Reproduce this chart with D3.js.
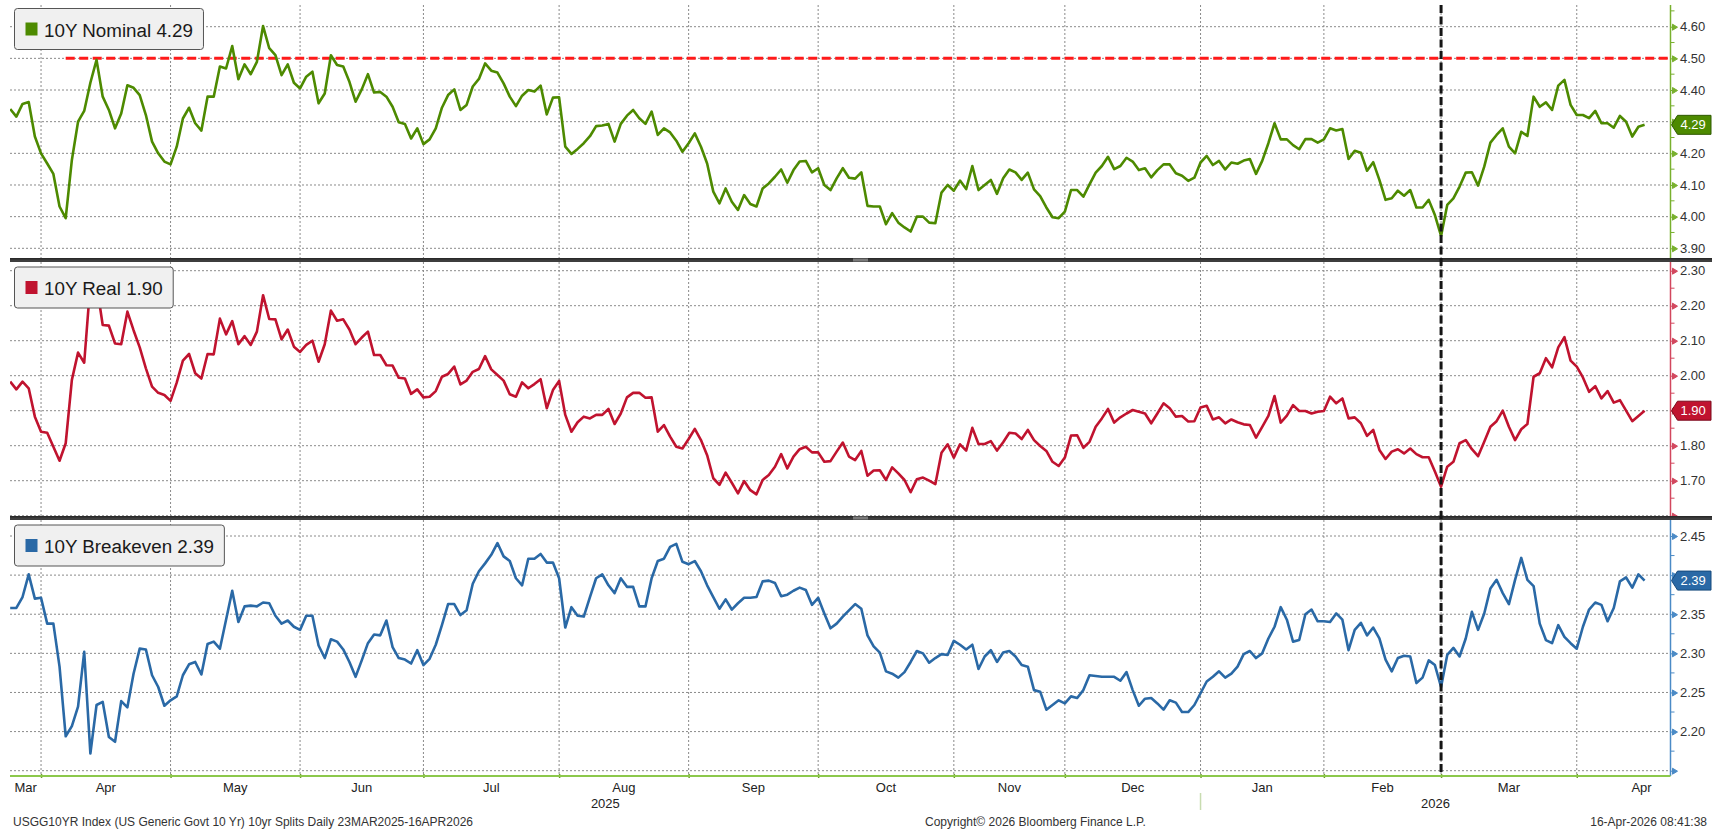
<!DOCTYPE html>
<html>
<head>
<meta charset="utf-8">
<script src="https://cdn.jsdelivr.net/npm/d3@7/dist/d3.min.js"></script>
<style>
  body { margin: 0; background: #fff; }
  svg { display: block; font-family: "Liberation Sans", Arial, sans-serif; }
  .grid line { stroke: #8a8a8a; stroke-width: 1; stroke-dasharray: 2,2; }
</style>
</head>
<body>
<div id="chart"></div>
<script>
// Daily closes, one value per trading day, 25-Mar-2025 .. 16-Apr-2026
var nominal = [
  4.340,4.316,4.356,4.362,4.253,4.200,4.168,4.135,4.032,3.995,
  4.179,4.300,4.334,4.423,4.495,4.379,4.337,4.279,4.326,4.415,
  4.407,4.384,4.321,4.237,4.200,4.174,4.165,4.221,4.310,4.344,
  4.295,4.272,4.379,4.379,4.474,4.468,4.539,4.434,4.481,4.450,
  4.489,4.602,4.532,4.510,4.447,4.481,4.423,4.405,4.442,4.458,
  4.358,4.389,4.510,4.479,4.474,4.426,4.363,4.402,4.450,4.392,
  4.394,4.379,4.347,4.298,4.293,4.247,4.279,4.229,4.244,4.279,
  4.344,4.384,4.402,4.337,4.353,4.411,4.435,4.484,4.461,4.455,
  4.421,4.379,4.349,4.382,4.400,4.395,4.414,4.323,4.376,4.377,
  4.221,4.198,4.214,4.232,4.254,4.286,4.288,4.293,4.237,4.293,
  4.319,4.337,4.311,4.293,4.332,4.258,4.279,4.266,4.240,4.205,
  4.232,4.263,4.221,4.168,4.079,4.042,4.089,4.047,4.021,4.068,
  4.040,4.032,4.089,4.105,4.126,4.149,4.107,4.147,4.174,4.176,
  4.140,4.153,4.100,4.084,4.121,4.153,4.123,4.120,4.140,4.034,
  4.032,4.032,3.976,4.011,3.981,3.966,3.953,4.000,4.000,3.981,
  3.979,4.076,4.100,4.082,4.114,4.087,4.160,4.084,4.100,4.116,
  4.072,4.121,4.149,4.140,4.116,4.139,4.086,4.065,4.029,3.998,
  3.995,4.016,4.084,4.084,4.063,4.102,4.139,4.160,4.189,4.150,
  4.160,4.186,4.174,4.147,4.153,4.124,4.147,4.165,4.165,4.137,
  4.129,4.113,4.123,4.171,4.192,4.163,4.176,4.149,4.171,4.167,
  4.177,4.182,4.135,4.176,4.232,4.295,4.244,4.244,4.226,4.213,
  4.245,4.245,4.234,4.244,4.279,4.272,4.277,4.182,4.208,4.202,
  4.145,4.172,4.116,4.053,4.058,4.082,4.066,4.084,4.029,4.029,
  4.053,4.005,3.939,4.037,4.058,4.095,4.139,4.140,4.098,4.158,
  4.234,4.258,4.279,4.221,4.200,4.268,4.255,4.379,4.347,4.361,
  4.337,4.414,4.432,4.353,4.321,4.321,4.311,4.334,4.295,4.295,
  4.281,4.318,4.300,4.253,4.284,4.290
];

var real = [
  1.983,1.961,1.983,1.964,1.883,1.840,1.837,1.797,1.757,1.807,
  1.988,2.066,2.037,2.264,2.262,2.145,2.143,2.092,2.090,2.183,
  2.130,2.081,2.021,1.969,1.951,1.945,1.928,1.980,2.043,2.062,
  2.007,1.992,2.062,2.061,2.163,2.118,2.156,2.090,2.113,2.088,
  2.126,2.230,2.162,2.161,2.104,2.132,2.083,2.068,2.088,2.100,
  2.040,2.090,2.186,2.157,2.161,2.132,2.090,2.109,2.126,2.059,
  2.059,2.030,2.029,1.994,1.992,1.948,1.961,1.938,1.940,1.956,
  1.997,2.005,2.026,1.975,1.986,2.011,2.019,2.056,2.018,2.002,
  1.986,1.947,1.940,1.981,1.964,1.976,1.990,1.907,1.959,1.985,
  1.888,1.840,1.867,1.883,1.878,1.888,1.888,1.905,1.862,1.892,
  1.938,1.951,1.951,1.937,1.938,1.840,1.859,1.826,1.797,1.792,
  1.819,1.848,1.816,1.773,1.707,1.688,1.723,1.694,1.664,1.699,
  1.673,1.661,1.702,1.716,1.740,1.776,1.735,1.769,1.790,1.797,
  1.781,1.781,1.754,1.756,1.783,1.809,1.769,1.759,1.785,1.714,
  1.729,1.730,1.702,1.738,1.721,1.702,1.667,1.704,1.709,1.700,
  1.690,1.780,1.804,1.766,1.804,1.786,1.851,1.805,1.805,1.813,
  1.786,1.810,1.837,1.835,1.819,1.845,1.816,1.799,1.785,1.754,
  1.742,1.766,1.829,1.830,1.794,1.811,1.854,1.878,1.905,1.866,
  1.881,1.892,1.902,1.897,1.892,1.864,1.892,1.921,1.907,1.883,
  1.885,1.869,1.870,1.909,1.914,1.875,1.881,1.864,1.875,1.867,
  1.861,1.859,1.823,1.854,1.885,1.942,1.866,1.886,1.916,1.899,
  1.899,1.892,1.897,1.899,1.940,1.921,1.935,1.878,1.881,1.864,
  1.828,1.845,1.788,1.762,1.783,1.790,1.778,1.792,1.776,1.767,
  1.767,1.726,1.683,1.740,1.754,1.807,1.816,1.790,1.770,1.811,
  1.854,1.870,1.900,1.854,1.816,1.847,1.862,1.997,2.007,2.050,
  2.024,2.081,2.110,2.043,2.026,1.995,1.954,1.970,1.935,1.956,
  1.923,1.930,1.900,1.870,1.885,1.900
];

var breakeven = [
  2.358,2.358,2.372,2.401,2.370,2.371,2.338,2.338,2.283,2.194,
  2.207,2.232,2.302,2.172,2.234,2.238,2.193,2.187,2.239,2.231,
  2.274,2.306,2.305,2.272,2.257,2.233,2.240,2.245,2.272,2.286,
  2.289,2.273,2.312,2.315,2.306,2.343,2.380,2.340,2.360,2.361,
  2.360,2.365,2.364,2.348,2.338,2.342,2.334,2.330,2.348,2.348,
  2.310,2.294,2.318,2.315,2.305,2.289,2.270,2.291,2.313,2.324,
  2.323,2.342,2.308,2.294,2.292,2.287,2.304,2.285,2.293,2.311,
  2.336,2.363,2.363,2.349,2.355,2.389,2.405,2.415,2.426,2.441,
  2.424,2.418,2.396,2.387,2.421,2.421,2.427,2.416,2.416,2.396,
  2.333,2.359,2.348,2.347,2.372,2.396,2.401,2.387,2.377,2.396,
  2.385,2.385,2.360,2.360,2.396,2.418,2.421,2.436,2.440,2.417,
  2.414,2.418,2.405,2.387,2.372,2.357,2.369,2.356,2.364,2.371,
  2.371,2.372,2.392,2.393,2.390,2.373,2.375,2.380,2.384,2.381,
  2.362,2.371,2.351,2.332,2.338,2.347,2.355,2.363,2.357,2.323,
  2.309,2.301,2.277,2.274,2.269,2.276,2.289,2.303,2.300,2.288,
  2.294,2.299,2.298,2.316,2.311,2.305,2.311,2.280,2.296,2.304,
  2.289,2.301,2.303,2.296,2.285,2.283,2.253,2.251,2.228,2.234,
  2.240,2.236,2.245,2.243,2.253,2.272,2.271,2.270,2.270,2.270,
  2.265,2.276,2.253,2.233,2.242,2.243,2.236,2.228,2.240,2.237,
  2.225,2.225,2.234,2.249,2.264,2.270,2.277,2.269,2.274,2.283,
  2.299,2.303,2.294,2.300,2.319,2.334,2.359,2.343,2.315,2.317,
  2.350,2.356,2.341,2.341,2.340,2.351,2.343,2.304,2.330,2.339,
  2.323,2.333,2.319,2.292,2.277,2.294,2.297,2.296,2.262,2.269,
  2.291,2.285,2.257,2.298,2.307,2.296,2.319,2.353,2.330,2.351,
  2.383,2.394,2.377,2.363,2.394,2.422,2.394,2.386,2.338,2.317,
  2.313,2.336,2.321,2.313,2.306,2.334,2.356,2.365,2.362,2.341,
  2.358,2.392,2.397,2.384,2.401,2.393
];

// tick labels for the three right axes
var nominalTicks = [3.90, 4.00, 4.10, 4.20, 4.30, 4.40, 4.50, 4.60];
var realTicks = [1.60, 1.70, 1.80, 1.90, 2.00, 2.10, 2.20, 2.30];
var breakevenTicks = [2.15, 2.20, 2.25, 2.30, 2.35, 2.40, 2.45];

// calendar: bond market closures skipped by the daily series
var startDate = "2025-03-25";
var endDate = "2026-04-16";
var holidays = ["2025-04-18", "2025-05-26", "2025-06-19", "2025-07-04", "2025-09-01", "2025-10-13",
  "2025-11-11", "2025-11-27", "2025-12-25", "2026-01-01", "2026-01-19", "2026-02-16"];
var markerDate = "2026-03-02";
var nominalLevel = 4.50;
var levelFrom = "2025-04-07";

var footLeft = "USGG10YR Index (US Generic Govt 10 Yr) 10yr Splits Daily 23MAR2025-16APR2026";
var footMid = "Copyright\u00A9 2026 Bloomberg Finance L.P.";
var footRight = "16-Apr-2026 08:41:38";

var svgWidth = 1712;
var svgHeight = 832;
var plotLeft = 10;
var axisX = 1670.5;
var fmt = d3.format(".2f");

var parseDay = d3.timeParse("%Y-%m-%d");
var fmtDay = d3.timeFormat("%Y-%m-%d");
var days = d3.timeDay.range(parseDay(startDate), d3.timeDay.offset(parseDay(endDate), 1))
  .filter(function(d) {
    return d.getDay() !== 0 && d.getDay() !== 6 && holidays.indexOf(fmtDay(d)) < 0;
  });
var dayIndex = function(s) { return days.map(fmtDay).indexOf(s); };

var svg = d3.select("#chart").append("svg")
  .attr("width", svgWidth)
  .attr("height", svgHeight);

// x scale over trading-day index
var xScale = d3.scaleLinear()
  .domain([0, days.length - 1 + 4.2])
  .range([10.2, axisX]);

var monthStarts = [];
days.forEach(function(d, i) {
  if (i > 0 && d.getMonth() !== days[i - 1].getMonth()) monthStarts.push(i);
});

var panels = [
  { label: "10Y Nominal", values: nominal, ticks: nominalTicks, color: "#4d8a00", axisColor: "#78b02e", dark: "#2f5a00",
    top: 5, bottom: 258, legendTop: 8.5, y: d3.scaleLinear().domain([3.9, 4.6]).range([248.3, 26.7]) },
  { label: "10Y Real", values: real, ticks: realTicks, color: "#c0132f", axisColor: "#d2475e", dark: "#7a0a1c",
    top: 262, bottom: 516, legendTop: 267, y: d3.scaleLinear().domain([1.7, 2.3]).range([480.7, 270.7]) },
  { label: "10Y Breakeven", values: breakeven, ticks: breakevenTicks, color: "#2a69a6", axisColor: "#4a8ac6", dark: "#174a7c",
    top: 520, bottom: 776, legendTop: 525, y: d3.scaleLinear().domain([2.15, 2.45]).range([770.7, 536]) }
];

var defs = svg.append("defs");

panels.forEach(function(p, k) {
  var g = svg.append("g");
  var last = p.values[p.values.length - 1];
  var ly = p.y(last);

  defs.append("clipPath").attr("id", "clip" + k)
    .append("rect")
    .attr("x", plotLeft).attr("y", p.top)
    .attr("width", axisX - plotLeft).attr("height", p.bottom - p.top);

  // grid
  g.append("g").attr("class", "grid")
    .selectAll("line").data(p.ticks).enter().append("line")
    .attr("x1", plotLeft).attr("x2", axisX)
    .attr("y1", d => p.y(d)).attr("y2", d => p.y(d));

  g.append("g").attr("class", "grid")
    .selectAll("line").data(monthStarts).enter().append("line")
    .attr("x1", d => xScale(d)).attr("x2", d => xScale(d))
    .attr("y1", p.top).attr("y2", p.bottom);

  // 4.50 reference level on the nominal panel
  if (k === 0) {
    g.append("line")
      .attr("x1", xScale(dayIndex(levelFrom))).attr("x2", axisX)
      .attr("y1", p.y(nominalLevel)).attr("y2", p.y(nominalLevel))
      .attr("stroke", "#ff1a1a").attr("stroke-width", 3)
      .attr("stroke-dasharray", "9,4.5");
  }

  // series
  var line = d3.line()
    .x((d, i) => xScale(i))
    .y(d => p.y(d));

  g.append("path")
    .datum(p.values)
    .attr("clip-path", "url(#clip" + k + ")")
    .attr("d", line)
    .attr("fill", "none")
    .attr("stroke", p.color)
    .attr("stroke-width", 2.6)
    .attr("stroke-linejoin", "round");

  // legend box
  var lg = g.append("g").attr("transform", `translate(14.5, ${p.legendTop})`);
  var box = lg.append("rect")
    .attr("height", 41).attr("rx", 3)
    .attr("fill", "#f0f0f0").attr("stroke", "#555").attr("stroke-width", 1);
  lg.append("rect")
    .attr("x", 11).attr("y", 14).attr("width", 12).attr("height", 13)
    .attr("fill", p.color);
  var lt = lg.append("text")
    .attr("x", 29.5).attr("y", 28.3)
    .attr("fill", "#1a1a1a")
    .style("font-size", "18.8px")
    .text(p.label + " " + fmt(last));
  box.attr("width", lt.node().getComputedTextLength() + 40);

  // right axis
  g.append("line")
    .attr("x1", axisX).attr("x2", axisX)
    .attr("y1", p.top).attr("y2", p.bottom)
    .attr("stroke", p.axisColor).attr("stroke-width", 1.5);

  var step = p.ticks[1] - p.ticks[0];
  var minor = d3.range(-3, p.ticks.length + 2).map(j => p.ticks[0] + (j + 0.5) * step)
    .filter(v => p.y(v) > p.top + 1 && p.y(v) < p.bottom - 1);
  g.append("g").selectAll("line").data(minor).enter().append("line")
    .attr("x1", axisX).attr("x2", axisX + 4)
    .attr("y1", d => p.y(d)).attr("y2", d => p.y(d))
    .attr("stroke", p.axisColor).attr("stroke-width", 1);

  var yAxis = d3.axisRight(p.y)
    .tickValues(p.ticks)
    .tickFormat(function(v) {
      // labels hidden at the panel edge or under the last-value tag
      return (p.y(v) >= p.bottom - 6 || Math.abs(p.y(v) - ly) < 12) ? "" : fmt(v);
    })
    .tickSize(0)
    .tickPadding(9.5);
  var ag = g.append("g")
    .attr("transform", `translate(${axisX},0)`)
    .call(yAxis);
  ag.select(".domain").remove();
  ag.attr("font-size", 13).attr("font-family", null);
  ag.selectAll("text").attr("fill", "#333");
  ag.selectAll(".tick").append("path")
    .attr("d", "M0,0H3M2,-3L7,0L2,3Z")
    .attr("fill", p.axisColor).attr("stroke", p.axisColor).attr("stroke-width", 1);

  // last value tag
  g.append("path")
    .attr("d", `M${axisX + 1},${ly} L${axisX + 7},${ly - 9.5} H1711 V${ly + 9.5} H${axisX + 7} Z`)
    .attr("fill", p.color).attr("stroke", p.dark).attr("stroke-width", 1);
  g.append("text")
    .attr("x", axisX + 10).attr("y", ly).attr("dy", "0.35em")
    .attr("fill", "#fff").style("font-size", "13px")
    .text(fmt(last));
});

// panel separators
[258, 516].forEach(function(sy) {
  svg.append("rect").attr("x", plotLeft).attr("y", sy).attr("width", svgWidth - plotLeft).attr("height", 4)
    .attr("fill", "#3e3e3e");
  svg.append("rect").attr("x", plotLeft).attr("y", sy).attr("width", svgWidth - plotLeft).attr("height", 1.5)
    .attr("fill", "#2a2a2a");
  svg.append("rect").attr("x", 853).attr("y", sy + 0.5).attr("width", 15).attr("height", 3)
    .attr("fill", "#7a7a7a");
});

// event marker
var mx = xScale(dayIndex(markerDate));
svg.append("line")
  .attr("x1", mx).attr("x2", mx)
  .attr("y1", 5).attr("y2", 776)
  .attr("stroke", "#151515").attr("stroke-width", 3)
  .attr("stroke-dasharray", "8,3.5");

// x axis
var xAxis = d3.axisBottom(xScale)
  .tickValues(monthStarts)
  .tickFormat("")
  .tickSize(4)
  .tickSizeOuter(0);
var xg = svg.append("g")
  .attr("transform", "translate(0,774)")
  .call(xAxis);
xg.select(".domain").remove();
xg.selectAll("line").attr("stroke", "#6b9e2a").attr("stroke-width", 1.5);
svg.append("line")
  .attr("x1", plotLeft).attr("x2", axisX)
  .attr("y1", 776).attr("y2", 776)
  .attr("stroke", "#8cc84b").attr("stroke-width", 2);

// month labels centred on each month span
var bounds = [0].concat(monthStarts).concat([monthStarts[monthStarts.length - 1] + 21]);
var monthLabels = d3.range(bounds.length - 1).map(function(j) {
  var i0 = j === 0 ? 0 : bounds[j];
  return { name: d3.timeFormat("%b")(days[bounds[j]]), x: (xScale(i0) + xScale(bounds[j + 1])) / 2 };
});
svg.append("g").selectAll("text").data(monthLabels).enter().append("text")
  .attr("x", d => d.x).attr("y", 791.5)
  .attr("text-anchor", "middle")
  .attr("fill", "#222").style("font-size", "13px")
  .text(d => d.name);

// years
var janIdx = monthStarts.filter(i => days[i].getMonth() === 0)[0];
svg.append("line")
  .attr("x1", xScale(janIdx)).attr("x2", xScale(janIdx))
  .attr("y1", 793).attr("y2", 810)
  .attr("stroke", "#c8dcb0").attr("stroke-width", 1.5);
var years = [
  { name: d3.timeFormat("%Y")(days[0]), x: (xScale(0) + xScale(janIdx)) / 2 },
  { name: d3.timeFormat("%Y")(days[janIdx]), x: (xScale(janIdx) + axisX) / 2 }
];
svg.append("g").selectAll("text").data(years).enter().append("text")
  .attr("x", d => d.x).attr("y", 808)
  .attr("text-anchor", "middle")
  .attr("fill", "#222").style("font-size", "13px")
  .text(d => d.name);

// footer
svg.append("text").attr("x", 13).attr("y", 826).attr("fill", "#333")
  .style("font-size", "12px").text(footLeft);
svg.append("text").attr("x", 925).attr("y", 826).attr("fill", "#333")
  .style("font-size", "12px").text(footMid);
svg.append("text").attr("x", 1707).attr("y", 826).attr("text-anchor", "end").attr("fill", "#333")
  .style("font-size", "12px").text(footRight);
</script>
</body>
</html>
